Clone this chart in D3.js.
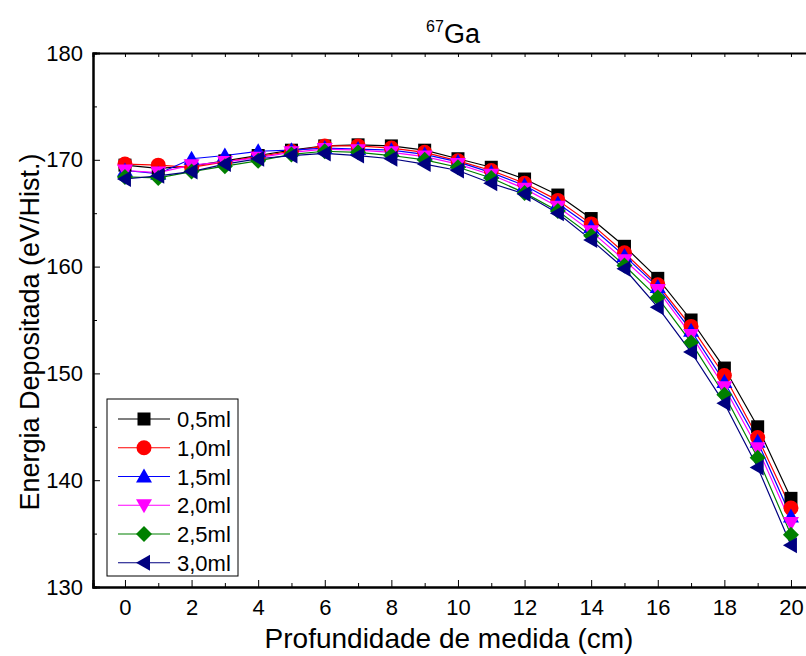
<!DOCTYPE html>
<html>
<head>
<meta charset="utf-8">
<script src="https://cdn.jsdelivr.net/npm/d3@7"></script>
<style>
  body { margin: 0; background: #fff; }
  svg { display: block; font-family: "Liberation Sans", Arial, sans-serif; }
</style>
</head>
<body>
<svg width="806" height="656"></svg>
<script>
const depths = d3.range(0, 21);
const seriesNames = ['0,5ml', '1,0ml', '1,5ml', '2,0ml', '2,5ml', '3,0ml'];
const seriesColors = ['#000000', '#ff0000', '#0000ff', '#ff00ff', '#008000', '#000080'];
const seriesShapes = ['square', 'circle', 'triUp', 'triDown', 'diamond', 'triLeft'];

const v05 = [169.5, 169.2, 169.4, 169.9, 170.4, 170.9, 171.3, 171.4, 171.3, 170.9, 170.1, 169.3, 168.2, 166.7, 164.5, 161.9, 158.9, 155.0, 150.5, 145.0, 138.3];
const v10 = [169.6, 169.5, 169.3, 169.8, 170.3, 170.8, 171.3, 171.3, 171.1, 170.7, 169.9, 169.0, 167.8, 166.2, 164.0, 161.3, 158.3, 154.4, 149.8, 144.0, 137.4];
const v15 = [169.0, 168.7, 170.1, 170.4, 170.8, 170.9, 171.1, 171.0, 170.9, 170.5, 169.8, 168.8, 167.6, 165.9, 163.7, 161.0, 158.1, 154.0, 149.2, 143.6, 136.6];
const v20 = [169.0, 168.8, 169.5, 169.8, 170.2, 170.7, 171.0, 170.9, 170.7, 170.3, 169.6, 168.6, 167.3, 165.6, 163.3, 160.6, 157.8, 153.6, 148.7, 143.0, 136.0];
const v25 = [168.4, 168.3, 168.9, 169.4, 169.9, 170.5, 170.8, 170.7, 170.4, 170.0, 169.3, 168.3, 166.9, 165.2, 162.9, 160.1, 157.1, 152.9, 148.0, 142.1, 134.9];
const v30 = [168.2, 168.5, 168.9, 169.6, 170.1, 170.4, 170.6, 170.4, 170.1, 169.6, 169.0, 167.8, 166.8, 165.0, 162.5, 159.8, 156.2, 152.0, 147.2, 141.2, 133.9];
const seriesValues = [v05, v10, v15, v20, v25, v30];

const xTicks = d3.range(0, 21, 2);
const yTicks = [130, 140, 150, 160, 170, 180];

const svg = d3.select('svg');
const plotLeft = 93, plotTop = 53, plotBottom = 587;

const x = d3.scaleLinear().domain([-0.96, 21]).range([plotLeft, plotLeft + 21.96 * 33.3]);
const y = d3.scaleLinear().domain([130, 180]).range([plotBottom, plotTop]);

// marker shapes
function marker(g, shape, color) {
  const s = 6.5;
  if (shape === 'square') {
    g.append('rect').attr('x', -s).attr('y', -s).attr('width', 2 * s).attr('height', 2 * s).attr('fill', color);
  } else if (shape === 'circle') {
    g.append('circle').attr('r', 7.5).attr('fill', color);
  } else {
    let pts;
    const t = 8;
    if (shape === 'triUp') pts = [[0, -t], [t, t * 0.75], [-t, t * 0.75]];
    if (shape === 'triDown') pts = [[0, t], [t, -t * 0.75], [-t, -t * 0.75]];
    if (shape === 'triLeft') pts = [[-t, 0], [t * 0.75, -t], [t * 0.75, t]];
    if (shape === 'diamond') pts = [[0, -8], [8, 0], [0, 8], [-8, 0]];
    g.append('polygon').attr('points', pts.map(p => p.join(',')).join(' ')).attr('fill', color);
  }
}

// lines
const line = d3.line().x((d, i) => x(depths[i])).y(d => y(d));
seriesValues.forEach((vals, k) => {
  svg.append('path')
    .attr('d', line(vals))
    .attr('fill', 'none')
    .attr('stroke', seriesColors[k])
    .attr('stroke-width', 1.2);
});
seriesValues.forEach((vals, k) => {
  vals.forEach((v, i) => {
    const g = svg.append('g').attr('transform', `translate(${x(depths[i])},${y(v)})`);
    marker(g, seriesShapes[k], seriesColors[k]);
  });
});

// axes (ticks inward)
svg.append('g').attr('transform', `translate(0,${plotBottom})`)
  .call(d3.axisBottom(x).tickValues(xTicks).tickSize(-7).tickPadding(12).tickFormat(d3.format('d')));
svg.append('g').attr('transform', `translate(0,${plotBottom})`)
  .call(d3.axisBottom(x).tickValues(d3.range(1, 21, 2)).tickSize(-4).tickFormat(''));
svg.append('g').attr('transform', `translate(0,${plotTop})`)
  .call(d3.axisTop(x).tickValues(d3.range(0, 21)).tickSize(-4).tickFormat(''));
svg.append('g').attr('transform', `translate(${plotLeft},0)`)
  .call(d3.axisLeft(y).tickValues(yTicks).tickSize(-7).tickPadding(10));
svg.append('g').attr('transform', `translate(${plotLeft},0)`)
  .call(d3.axisLeft(y).tickValues([135, 145, 155, 165, 175]).tickSize(-4).tickFormat(''));

svg.selectAll('.domain').attr('stroke', '#000').attr('stroke-width', 2);
svg.selectAll('.tick line').attr('stroke', '#000');
svg.selectAll('.tick text').attr('font-size', 22).attr('fill', '#000')
  .attr('font-family', '"Liberation Sans", Arial, sans-serif');

// title
const title = svg.append('text').attr('x', 453).attr('y', 43).attr('text-anchor', 'middle')
  .attr('font-size', 27).attr('fill', '#000');
title.append('tspan').attr('font-size', 16).attr('dy', -11).text('67');
title.append('tspan').attr('dy', 11).text('Ga');

// axis labels
svg.append('text').attr('x', 449).attr('y', 648).attr('text-anchor', 'middle')
  .attr('font-size', 28).attr('fill', '#000').text('Profundidade de medida (cm)');
svg.append('text').attr('transform', `translate(39,332) rotate(-90)`).attr('text-anchor', 'middle')
  .attr('font-size', 27).attr('fill', '#000').text('Energia Depositada (eV/Hist.)');

// legend
const lg = svg.append('g');
lg.append('rect').attr('x', 107).attr('y', 399).attr('width', 131).attr('height', 177)
  .attr('fill', '#fff').attr('stroke', '#000').attr('stroke-width', 1);
seriesNames.forEach((name, k) => {
  const yy = 419 + k * 28.75;
  lg.append('line').attr('x1', 118).attr('x2', 170).attr('y1', yy).attr('y2', yy)
    .attr('stroke', seriesColors[k]).attr('stroke-width', 1.2);
  marker(lg.append('g').attr('transform', `translate(144,${yy})`), seriesShapes[k], seriesColors[k]);
  lg.append('text').attr('x', 177).attr('y', yy + 8).attr('font-size', 22).attr('fill', '#000').text(name);
});
</script>
</body>
</html>
